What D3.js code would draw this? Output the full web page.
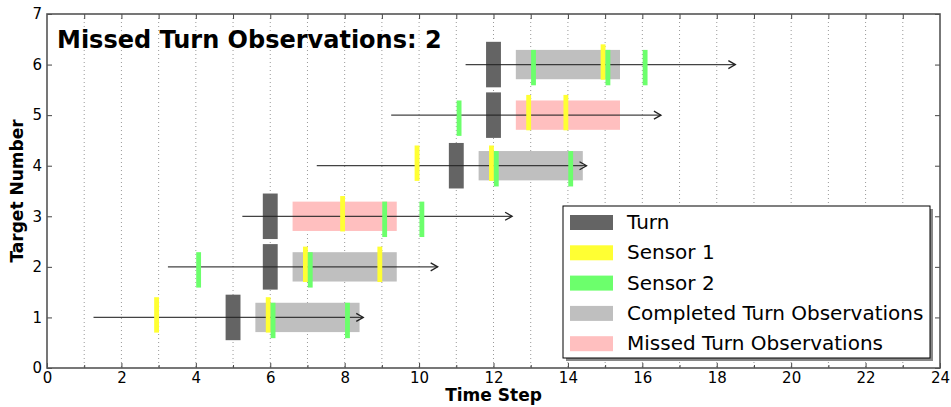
<!DOCTYPE html>
<html>
<head>
<meta charset="utf-8">
<script src="https://d3js.org/d3.v7.min.js"></script>
<style>
  body { margin: 0; background: #fff; }
  text { font-family: "DejaVu Sans", sans-serif; }
</style>
</head>
<body>
<div id="chart"></div>
<script>
// target rows and their tracks
var targets = [1, 2, 3, 4, 5, 6];
var trackStart = [1.25, 3.25, 5.25, 7.25, 9.25, 11.25];
var trackEnd = [8.5, 10.5, 12.5, 14.5, 16.5, 18.5];
var turnTimes = [5, 6, 6, 11, 12, 12];
// observation windows after the turn
var obsStart = [5.6, 6.6, 6.6, 11.6, 12.6, 12.6];
var obsEnd = [8.4, 9.4, 9.4, 14.4, 15.4, 15.4];
var obsMissed = [false, false, true, false, true, false];
// sensor detections: [target, time step]
var sensor1 = [[1, 3], [1, 6], [2, 7], [2, 9], [3, 8], [4, 10], [4, 12], [5, 13], [5, 14], [6, 15]];
var sensor2 = [[1, 6], [1, 8], [2, 4], [2, 7], [3, 9], [3, 10], [4, 12], [4, 14], [5, 11], [6, 13], [6, 15], [6, 16]];
var xTicks = d3.range(0, 25, 2);
var yTicks = d3.range(0, 8, 1);
var legendLabels = ["Turn", "Sensor 1", "Sensor 2", "Completed Turn Observations", "Missed Turn Observations"];
var missedCount = 2;

var colors = {turn: "#646464", s1: "#ffff33", s2: "#6cff6c", done: "#bfbfbf", missed: "#ffbfbf"};
var legendColors = [colors.turn, colors.s1, colors.s2, colors.done, colors.missed];

var W = 951, H = 407;
var margin = {top: 14, right: 11, bottom: 39, left: 47};
var width = W - margin.left - margin.right,
    height = H - margin.top - margin.bottom;

var svg = d3.select("#chart").append("svg")
    .attr("width", W).attr("height", H);

svg.append("defs").append("marker")
    .attr("id", "arrow")
    .attr("markerUnits", "userSpaceOnUse")
    .attr("viewBox", "-1 -6 10 12")
    .attr("refX", 7).attr("refY", 0)
    .attr("markerWidth", 10).attr("markerHeight", 12)
    .attr("orient", "auto")
  .append("path")
    .attr("d", "M0,-4L7,0L0,4")
    .attr("fill", "none")
    .attr("stroke", "#222")
    .attr("stroke-width", 1.3);

var g = svg.append("g")
    .attr("transform", "translate(" + margin.left + "," + margin.top + ")");

var x = d3.scaleLinear().domain([0, 24]).range([0, width]);
var y = d3.scaleLinear().domain([0, 7]).range([height, 0]);

// dotted vertical grid at every step
g.append("g").selectAll("line")
  .data(d3.range(1, 24))
  .enter().append("line")
    .attr("x1", function(d) { return x(d); })
    .attr("x2", function(d) { return x(d); })
    .attr("y1", 0).attr("y2", height)
    .attr("stroke", "#999")
    .attr("stroke-width", 1)
    .attr("stroke-dasharray", "1,3");

// observation windows
g.selectAll(".obs")
  .data(targets)
  .enter().append("rect")
    .attr("x", function(d, i) { return x(obsStart[i]); })
    .attr("width", function(d, i) { return x(obsEnd[i]) - x(obsStart[i]); })
    .attr("y", function(d) { return y(d + 0.29); })
    .attr("height", y(0) - y(0.58))
    .attr("fill", function(d, i) { return obsMissed[i] ? colors.missed : colors.done; });

// turns
g.selectAll(".turn")
  .data(targets)
  .enter().append("rect")
    .attr("x", function(d, i) { return x(turnTimes[i] - 0.2); })
    .attr("width", x(0.4) - x(0))
    .attr("y", function(d) { return y(d + 0.45); })
    .attr("height", y(0) - y(0.9))
    .attr("fill", colors.turn);

// tracks
g.selectAll(".track")
  .data(targets)
  .enter().append("line")
    .attr("x1", function(d, i) { return x(trackStart[i]); })
    .attr("x2", function(d, i) { return x(trackEnd[i]); })
    .attr("y1", function(d) { return y(d); })
    .attr("y2", function(d) { return y(d); })
    .attr("stroke", "#222")
    .attr("stroke-opacity", 0.85)
    .attr("stroke-width", 1.3)
    .attr("marker-end", "url(#arrow)");

// sensor hits
g.selectAll(".s1")
  .data(sensor1)
  .enter().append("rect")
    .attr("x", function(d) { return x(d[1] - 0.12); })
    .attr("width", x(0.13) - x(0))
    .attr("y", function(d) { return y(d[0] + 0.4); })
    .attr("height", y(0) - y(0.7))
    .attr("fill", colors.s1);

g.selectAll(".s2")
  .data(sensor2)
  .enter().append("rect")
    .attr("x", function(d) { return x(d[1] + 0.01); })
    .attr("width", x(0.13) - x(0))
    .attr("y", function(d) { return y(d[0] + 0.29); })
    .attr("height", y(0) - y(0.7))
    .attr("fill", colors.s2);

// axes: ticks inside on all sides
var tickLen = 5;
g.append("g")
    .attr("transform", "translate(0," + height + ")")
    .call(d3.axisBottom(x).tickValues(xTicks).tickSize(-tickLen).tickPadding(4).tickFormat(d3.format("d")))
    .call(function(s) { s.select(".domain").remove(); })
    .selectAll("text").style("font-size", "15px").attr("fill", "#000");
g.append("g")
    .attr("transform", "translate(0," + height + ")")
    .call(d3.axisBottom(x).tickValues(d3.range(1, 24, 2)).tickSize(-3).tickFormat(""))
    .call(function(s) { s.select(".domain").remove(); });
g.append("g")
    .call(d3.axisTop(x).tickValues(d3.range(1, 24)).tickSize(-tickLen).tickFormat(""))
    .call(function(s) { s.select(".domain").remove(); });
g.append("g")
    .call(d3.axisLeft(y).tickValues(yTicks).tickSize(-tickLen).tickPadding(5).tickFormat(d3.format("d")))
    .call(function(s) { s.select(".domain").remove(); })
    .selectAll("text").style("font-size", "15px").attr("fill", "#000");
g.append("g")
    .attr("transform", "translate(" + width + ",0)")
    .call(d3.axisRight(y).tickValues(yTicks).tickSize(-tickLen).tickFormat(""))
    .call(function(s) { s.select(".domain").remove(); });
g.selectAll(".tick line").attr("stroke", "#444");

g.append("rect")
    .attr("width", width).attr("height", height)
    .attr("fill", "none")
    .attr("stroke", "#555")
    .attr("stroke-width", 1.6);

// labels
g.append("text")
    .attr("x", width / 2).attr("y", height + 33)
    .attr("text-anchor", "middle")
    .style("font-size", "17px").style("font-weight", "bold")
    .text("Time Step");
g.append("text")
    .attr("transform", "rotate(-90)")
    .attr("x", -height / 2).attr("y", -24)
    .attr("text-anchor", "middle")
    .style("font-size", "17px").style("font-weight", "bold")
    .text("Target Number");
g.append("text")
    .attr("x", 10).attr("y", 34)
    .style("font-size", "24px").style("font-weight", "bold")
    .text("Missed Turn Observations: " + missedCount);

// legend
var lg = svg.append("g").attr("transform", "translate(563,206)");
var lw = 367, lh = 152;
lg.append("rect").attr("x", 3).attr("y", 3).attr("width", lw).attr("height", lh).attr("fill", "#888");
lg.append("rect").attr("width", lw).attr("height", lh).attr("fill", "#fff").attr("stroke", "#000").attr("stroke-width", 1);
var items = lg.selectAll(".item")
  .data(legendLabels)
  .enter().append("g")
    .attr("transform", function(d, i) { return "translate(0," + (16 + i * 30.3) + ")"; });
items.append("rect")
    .attr("x", 7).attr("y", -7).attr("width", 43).attr("height", 15)
    .attr("fill", function(d, i) { return legendColors[i]; });
items.append("text")
    .attr("x", 64).attr("y", 7)
    .style("font-size", "20px")
    .text(function(d) { return d; });
</script>
</body>
</html>
